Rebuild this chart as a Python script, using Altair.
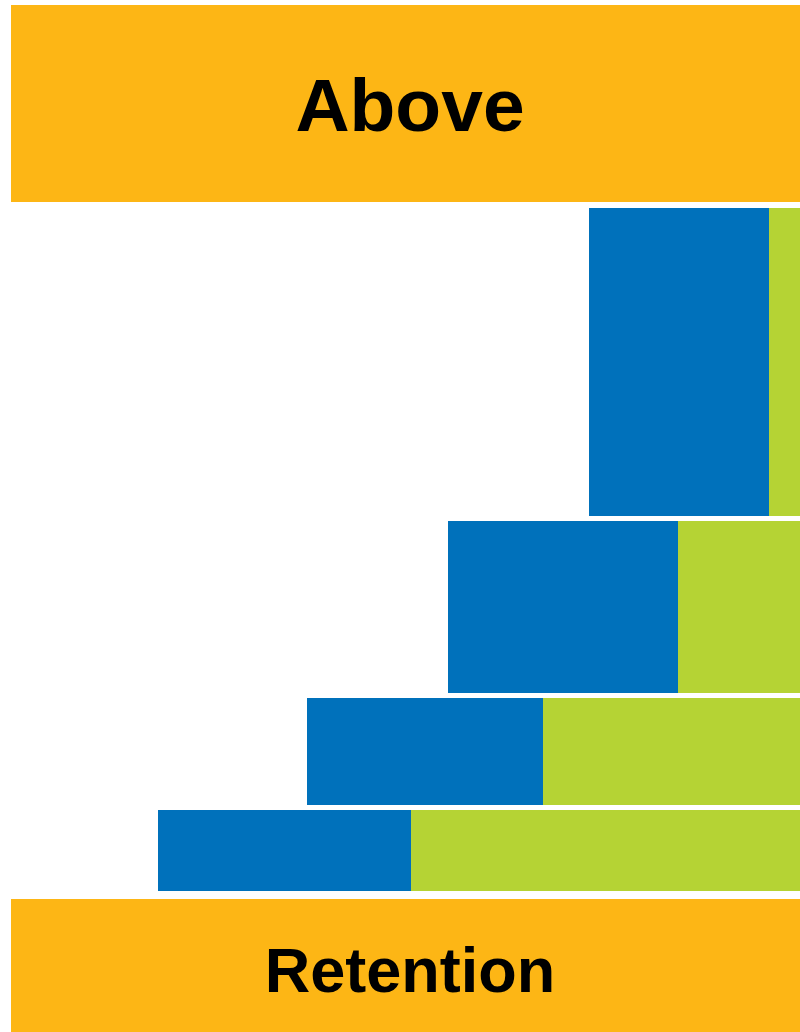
import altair as alt
import pandas as pd

# Stacked step bars (in chart units)
rows = ["Row 1", "Row 2", "Row 3", "Row 4"]
row_top = [208, 521, 698, 810]
row_bottom = [516, 693, 805, 891]
blue_start = [589, 448, 307, 158]
blue_end = [769, 678, 543, 411]
green_end = [830, 830, 830, 830]

# Header / footer bands
band_labels = ["Above", "Retention"]
band_left = [11, 11]
band_right = [830, 830]
band_top = [5, 899]
band_bottom = [202, 1060]
label_x = [410, 410]
label_y = [131, 992]
label_size = [75, 63]

ORANGE = "#FDB615"
BLUE = "#0071BB"
GREEN = "#B5D334"

segs = []
for r, t, b, s, m, e in zip(rows, row_top, row_bottom, blue_start, blue_end, green_end):
    segs.append(dict(row=r, part="blue", x=s, x2=m, y=t, y2=b))
    segs.append(dict(row=r, part="green", x=m, x2=e, y=t, y2=b))
seg_df = pd.DataFrame(segs)

band_df = pd.DataFrame(dict(label=band_labels, x=band_left, x2=band_right,
                            y=band_top, y2=band_bottom, lx=label_x, ly=label_y,
                            size=label_size))

xs = alt.Scale(domain=[0, 800], nice=False, zero=False)
ys = alt.Scale(domain=[0, 1032], nice=False, zero=False, reverse=True)

bars = alt.Chart(seg_df).mark_rect(clip=True).encode(
    x=alt.X("x:Q", scale=xs, axis=None),
    x2="x2:Q",
    y=alt.Y("y:Q", scale=ys, axis=None),
    y2="y2:Q",
    color=alt.Color("part:N", scale=alt.Scale(domain=["blue", "green"], range=[BLUE, GREEN]), legend=None),
)

bands = alt.Chart(band_df).mark_rect(clip=True, color=ORANGE).encode(
    x=alt.X("x:Q", scale=xs, axis=None),
    x2="x2:Q",
    y=alt.Y("y:Q", scale=ys, axis=None),
    y2="y2:Q",
)

text = alt.Chart(band_df).mark_text(
    font="Liberation Sans", fontWeight="bold", color="#000000",
    align="center", baseline="alphabetic",
).encode(
    x=alt.X("lx:Q", scale=xs, axis=None),
    y=alt.Y("ly:Q", scale=ys, axis=None),
    text="label:N",
    size=alt.Size("size:Q", scale=None, legend=None),
)

chart = alt.layer(bands, bars, text).properties(
    width=800, height=1032,
    autosize=alt.AutoSizeParams(type="none"),
    padding=0,
    background="#FFFFFF",
).configure_view(stroke=None)

chart.save("out.html", embed_options={"renderer": "svg", "actions": False})
